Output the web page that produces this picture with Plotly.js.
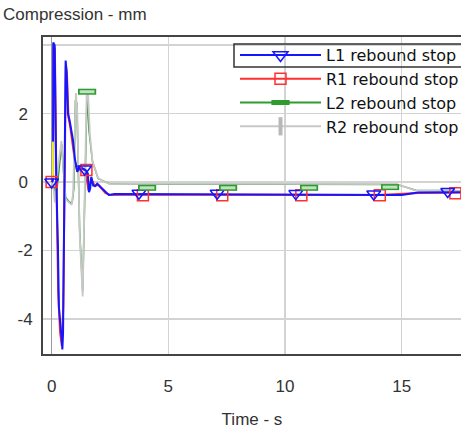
<!DOCTYPE html>
<html><head><meta charset="utf-8">
<script src="https://cdn.plot.ly/plotly-3.0.1.min.js"></script>
<style>html,body{margin:0;padding:0;background:#fff;}#chart{width:461px;height:429px;}</style>
</head><body><div id="chart"></div>
<script>
const seriesNames = ['L1 rebound stop', 'R1 rebound stop', 'L2 rebound stop', 'R2 rebound stop'];
const xTickVals = [0, 5, 10, 15];
const yTickVals = [-4, -2, 0, 2, 4];
const yTickText = ['-4', '-2', '0\u00a0', '2\u00a0', ''];

// L1 (blue)
const l1Time = [0, 0.04, 0.06, 0.07, 0.13, 0.2, 0.27, 0.31, 0.42, 0.46, 0.49, 0.52, 0.56, 0.6, 0.64, 0.7, 0.77, 0.84, 0.92, 0.99, 1.1, 1.2, 1.3, 1.45, 1.55, 1.6, 1.65, 1.7, 1.78, 1.86, 1.95, 2.1, 2.3, 2.45, 2.7, 5, 8, 11, 14.7, 15.0, 15.7, 17.6];
const l1Comp = [0, 0.02, 0.1, 4.08, 4.0, 0.06, -1.9, -3.65, -4.5, -4.9, -4.4, -2.0, 1.0, 3.55, 3.25, 2.0, 1.8, 1.55, 1.2, 0.7, 0.3, 0.45, 0.4, 0.35, 0.25, -0.3, -0.2, 0.15, -0.1, -0.12, -0.05, -0.15, -0.3, -0.38, -0.35, -0.36, -0.36, -0.37, -0.38, -0.38, -0.31, -0.3];
const l1MarkTime = [0, 1.41, 3.74, 7.09, 10.46, 13.8, 16.97];
const l1MarkComp = [0, 0.38, -0.33, -0.33, -0.34, -0.35, -0.28];

// R1 (red)
const r1Time = [0, 0.06, 0.08, 0.14, 0.2, 0.28, 0.36, 0.44, 0.5, 0.56, 0.61, 0.66, 0.72, 0.8, 0.9, 1.0, 1.1, 1.25, 1.45, 1.58, 1.7, 1.85, 2.0, 2.3, 2.5, 2.8, 6, 10, 14, 15.7, 17.6];
const r1Comp = [0, 0.1, 4.0, 3.9, 0.2, -3.2, -4.4, -4.8, -3.6, 0.8, 3.4, 3.1, 1.9, 1.6, 1.1, 0.6, 0.3, 0.4, 0.33, -0.25, 0.1, -0.12, -0.08, -0.32, -0.38, -0.37, -0.37, -0.38, -0.38, -0.32, -0.31];
const r1MarkTime = [0, 1.49, 3.91, 7.31, 10.7, 14.06, 17.3];
const r1MarkComp = [0, 0.35, -0.39, -0.39, -0.39, -0.39, -0.33];

// L2 (green)
const l2Time = [0, 0.1, 0.2, 0.3, 0.43, 0.52, 0.6, 0.77, 0.88, 0.95, 1.02, 1.08, 1.2, 1.33, 1.42, 1.52, 1.6, 1.75, 1.99, 2.3, 2.5, 6, 10, 14.8, 15.6, 17.6];
const l2Comp = [0, -0.15, -0.4, 0.2, 1.1, 0.2, -0.45, -0.6, -0.6, -0.2, 2.4, 2.3, -1.4, -3.2, -0.4, 2.64, 1.5, 0.6, 0.1, 0.0, -0.06, -0.06, -0.06, -0.07, -0.24, -0.26];
const l2MarkTime = [1.52, 4.09, 7.56, 11.03, 14.5];
const l2MarkComp = [2.64, -0.17, -0.17, -0.17, -0.15];

// R2 (grey)
const r2Time = [0, 0.08, 0.14, 0.25, 0.42, 0.52, 0.6, 0.77, 0.86, 0.92, 0.99, 1.04, 1.1, 1.2, 1.33, 1.42, 1.5, 1.56, 1.64, 1.75, 1.99, 2.2, 2.5, 5, 10, 14.8, 15.6, 17.6];
const r2Comp = [0, -0.2, -0.6, 0.3, 1.2, 0.2, -0.5, -0.62, -0.67, -0.3, 1.8, 2.6, 2.0, -1.5, -3.35, -0.5, 2.6, 2.6, 1.4, 0.6, 0.12, 0.03, -0.06, -0.05, -0.05, -0.06, -0.25, -0.27];

// yellow cursor segment
const cursorTime = [0.055, 0.055];
const cursorComp = [0.1, 1.18];

const BLUE = '#1515ff', RED = '#ff3030', GREEN = '#2f9a2f', GREY = '#c8c8c8';

const traces = [
  {x: r1Time, y: r1Comp, mode: 'lines', line: {color: RED, width: 2}, showlegend: false},
  {x: l2Time, y: l2Comp, mode: 'lines', line: {color: GREEN, width: 1.5}, showlegend: false},
  {x: r2Time, y: r2Comp, mode: 'lines', line: {color: GREY, width: 1.8}, showlegend: false},
  {x: l1Time, y: l1Comp, mode: 'lines', line: {color: BLUE, width: 2}, showlegend: false},
  {x: cursorTime, y: cursorComp, mode: 'lines', line: {color: '#f0f020', width: 2}, showlegend: false},
  {x: r1MarkTime, y: r1MarkComp, mode: 'markers', showlegend: false,
   marker: {symbol: 'square-open', size: 11, color: RED, line: {color: RED, width: 1.5}}},
  {x: l1MarkTime, y: l1MarkComp, mode: 'markers', showlegend: false,
   marker: {symbol: 'triangle-down-open', size: 12, color: BLUE, line: {color: BLUE, width: 1.5}}},
  {x: l2MarkTime, y: l2MarkComp, mode: 'markers', showlegend: false,
   marker: {symbol: 'line-ew', size: 13, color: GREEN, line: {color: GREEN, width: 6}}},
  {x: l2MarkTime, y: l2MarkComp, mode: 'markers', showlegend: false,
   marker: {symbol: 'line-ew', size: 10.5, color: '#bfe3bf', line: {color: '#bfe3bf', width: 3}}},
  // legend entries
  {x: [null], y: [null], name: seriesNames[0], mode: 'lines+markers', line: {color: BLUE, width: 2},
   marker: {symbol: 'triangle-down-open', size: 13, color: BLUE, line: {color: BLUE, width: 1.5}}},
  {x: [null], y: [null], name: seriesNames[1], mode: 'lines+markers', line: {color: RED, width: 2},
   marker: {symbol: 'square-open', size: 11, color: RED, line: {color: RED, width: 1.5}}},
  {x: [null], y: [null], name: seriesNames[2], mode: 'lines+markers', line: {color: GREEN, width: 2},
   marker: {symbol: 'line-ew', size: 13, color: GREEN, line: {color: GREEN, width: 5}}},
  {x: [null], y: [null], name: seriesNames[3], mode: 'lines+markers', line: {color: GREY, width: 2},
   marker: {symbol: 'line-ns', size: 13, color: '#b8b8b8', line: {color: '#b8b8b8', width: 4}}}
];

const layout = {
  width: 461, height: 429,
  margin: {l: 43, r: 0, t: 37, b: 75, pad: 0, autoexpand: false},
  paper_bgcolor: '#ffffff', plot_bgcolor: '#ffffff',
  font: {family: '"Liberation Sans", Arial, sans-serif', size: 17, color: '#333'},
  title: {text: 'Compression - mm', x: 0.0065, xref: 'container', xanchor: 'left',
          y: 1 - 14 / 429, yref: 'container', yanchor: 'middle', font: {size: 17, color: '#333'}},
  xaxis: {range: [-0.37, 17.54], tickvals: xTickVals, showgrid: true, gridcolor: '#d3d3d3', gridwidth: 1.5,
          zeroline: true, zerolinecolor: '#9a9a9a', zerolinewidth: 1.5,
          showline: true, linecolor: '#444', linewidth: 2, mirror: true,
          ticks: 'outside', ticklen: 16, tickcolor: 'rgba(0,0,0,0)',
          title: {text: 'Time - s', standoff: 19, font: {size: 17, color: '#333'}}},
  yaxis: {range: [-5.03, 4.24], tickvals: yTickVals, ticktext: yTickText, showgrid: true, gridcolor: '#d3d3d3', gridwidth: 1.5,
          zeroline: false, showline: true, linecolor: '#444', linewidth: 2, mirror: false,
          ticks: 'outside', ticklen: 5, tickcolor: 'rgba(0,0,0,0)'},
  showlegend: true,
  legend: {x: (235 - 43) / 418, xanchor: 'left', y: (354 - 38) / 317, yanchor: 'top',
           bgcolor: 'rgba(255,255,255,0)', borderwidth: 0, itemwidth: 81, tracegroupgap: 0,
           font: {family: '"DejaVu Sans", sans-serif', size: 16, color: '#111'}},
  shapes: [
    {type: 'rect', xref: 'paper', yref: 'paper', layer: 'between', x0: (234 - 43) / 418, x1: 1.1,
     y0: (354 - 132) / 317, y1: (354 - 44) / 317, fillcolor: '#ffffff', line: {width: 0}},
    {type: 'rect', xref: 'paper', yref: 'paper', x0: (234 - 43) / 418, x1: 1.1,
     y0: (354 - 67) / 317, y1: (354 - 44) / 317, fillcolor: 'rgba(0,0,0,0)', line: {color: '#333', width: 1.5}}
  ]
};

Plotly.newPlot('chart', traces, layout, {displayModeBar: false, staticPlot: true});
</script>
</body></html>
